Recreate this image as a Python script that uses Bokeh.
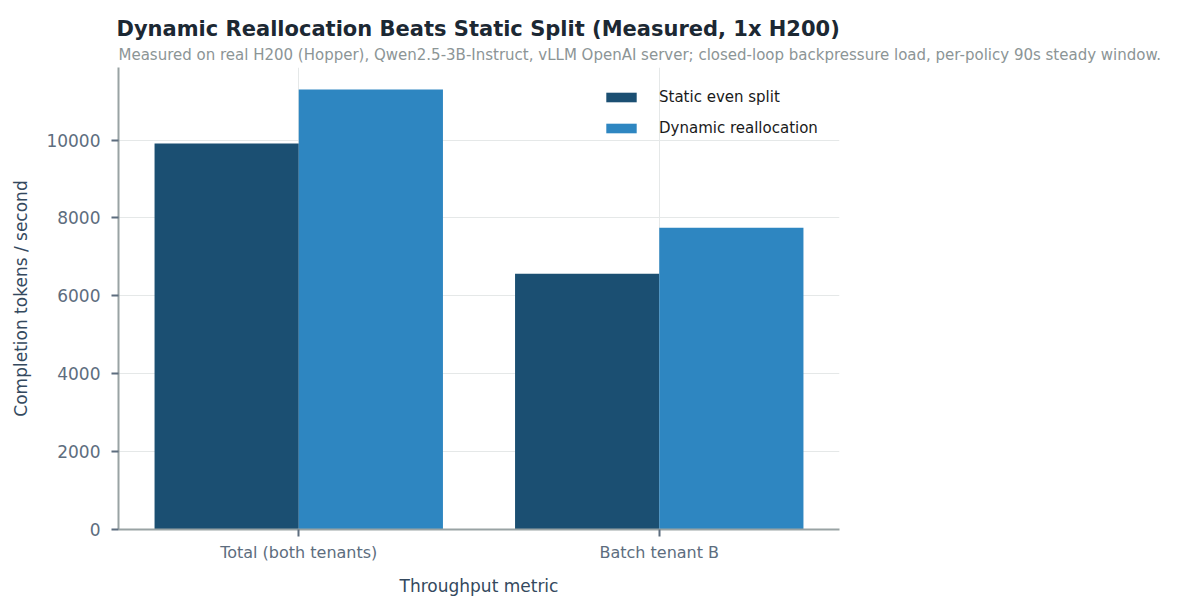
from bokeh.plotting import figure
from bokeh.models import ColumnDataSource, FactorRange, Range1d, Title, Legend, LegendItem
from bokeh.transform import dodge
from bokeh.embed import file_html
from bokeh.resources import INLINE

FONT = "DejaVu Sans"

metrics = ["Total (both tenants)", "Batch tenant B"]
static_split = [9910, 6570]
dynamic_realloc = [11300, 7750]
y_ticks = [0, 2000, 4000, 6000, 8000, 10000]

title_text = "Dynamic Reallocation Beats Static Split (Measured, 1x H200)"
subtitle_text = ("Measured on real H200 (Hopper), Qwen2.5-3B-Instruct, vLLM OpenAI server; "
                 "closed-loop backpressure load, per-policy 90s steady window.")

source = ColumnDataSource(data=dict(metric=metrics, static=static_split, dynamic=dynamic_realloc))

p = figure(x_range=FactorRange(*metrics), y_range=Range1d(0, 11865),
           width=1166, height=598, output_backend="svg", toolbar_location=None,
           title=None, min_border_left=118, min_border_right=327,
           min_border_bottom=10, min_border_top=0)
p.outline_line_color = None

b1 = p.vbar(x=dodge("metric", -0.2, range=p.x_range), top="static", width=0.4,
            source=source, color="#1b4f72", line_color=None)
b2 = p.vbar(x=dodge("metric", 0.2, range=p.x_range), top="dynamic", width=0.4,
            source=source, color="#2e86c1", line_color=None)

# titles stack outward: subtitle first (next to the frame), then title, then a spacer
sub = Title(text=subtitle_text, text_font=FONT, text_font_size="15px", text_font_style="normal",
            text_color="#8c9596", offset=0, standoff=7)
main = Title(text=title_text, text_font=FONT, text_font_size="21px", text_font_style="bold",
             text_color="#1c2833", offset=-2, standoff=0, text_line_height=0.7)
spacer = Title(text=" ", text_font_size="2px", standoff=10)
p.add_layout(sub, "above")
p.add_layout(main, "above")
p.add_layout(spacer, "above")

for ax in (p.xaxis[0], p.yaxis[0]):
    ax.axis_line_color = "#99a3a4"
    ax.axis_line_width = 2
    ax.major_tick_line_color = "#5d6d7e"
    ax.major_tick_line_width = 2
    ax.major_tick_out = 7
    ax.major_tick_in = 0
    ax.minor_tick_line_color = None
    ax.major_label_text_font = FONT
    ax.major_label_text_font_size = "16px"
    ax.major_label_text_color = "#5d6d7e"
    ax.axis_label_text_font = FONT
    ax.axis_label_text_font_size = "17px"
    ax.axis_label_text_font_style = "normal"
    ax.axis_label_text_color = "#34495e"

p.yaxis.major_label_text_font_size = "17px"
p.yaxis.major_label_standoff = 11
p.yaxis.ticker = y_ticks
p.yaxis.axis_label = "Completion tokens / second"
p.xaxis.axis_label = "Throughput metric"
p.xaxis.major_label_standoff = 6
p.xaxis.axis_label_standoff = 11
p.yaxis.axis_label_standoff = 12

p.xgrid.grid_line_color = "#e5e8e8"
p.ygrid.grid_line_color = "#e5e8e8"
p.xgrid.grid_line_width = 1
p.ygrid.grid_line_width = 1

legend = Legend(items=[LegendItem(label="Static even split", renderers=[b1]),
                       LegendItem(label="Dynamic reallocation", renderers=[b2])],
                location="top_right", border_line_color=None, background_fill_alpha=0,
                glyph_width=38, glyph_height=12, label_standoff=19, spacing=13,
                label_width=159, margin=21, padding=6, label_text_font=FONT,
                label_text_font_size="15px", label_text_color="#1a1a1a")
p.add_layout(legend)

open("out.html", "w").write(file_html(p, INLINE))
